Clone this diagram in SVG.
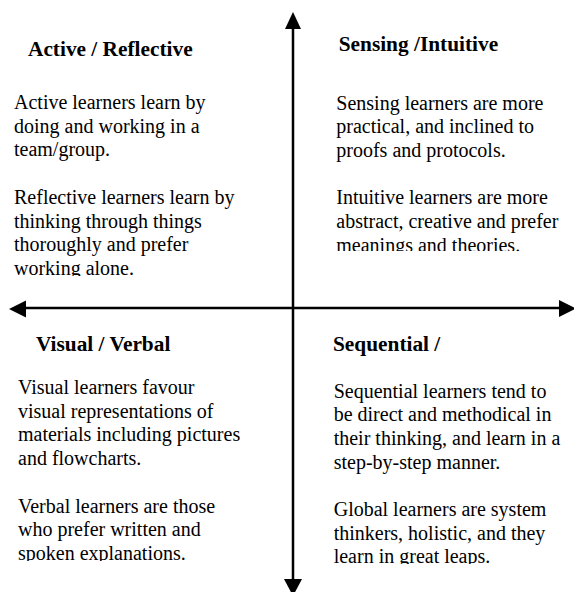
<svg xmlns="http://www.w3.org/2000/svg" width="574" height="592" viewBox="0 0 574 592">
  <style>
    .head { font-family: "Liberation Serif", "Times New Roman", serif; font-weight: bold; font-size: 21.33px; fill: #000; }
    .body { font-family: "Liberation Serif", "Times New Roman", serif; font-size: 20px; fill: #000; }
    .axis { stroke: #000; stroke-width: 2.5; fill: none; }
    .tip { fill: #000; }
  </style>
  <defs>
    <!-- text frames cut off their last line -->
    <clipPath id="clip-tl"><rect x="0" y="70" width="285" height="206"/></clipPath>
    <clipPath id="clip-tr"><rect x="300" y="70" width="274" height="181"/></clipPath>
    <clipPath id="clip-bl"><rect x="0" y="370" width="285" height="191"/></clipPath>
    <clipPath id="clip-br"><rect x="300" y="370" width="274" height="194"/></clipPath>
  </defs>

  <rect width="574" height="592" fill="#fff"/>

  <!-- axes -->
  <g id="axes">
    <line class="axis" x1="293" y1="26" x2="293" y2="582"/>
    <polygon class="tip" points="293,12 285,29 301,29"/>
    <polygon class="tip" points="293,596 284,579 302,579"/>
    <line class="axis" x1="24" y1="308" x2="561" y2="308"/>
    <polygon class="tip" points="9,309 26,300.5 26,317.5"/>
    <polygon class="tip" points="576,308.5 559,300 559,317"/>
  </g>

  <!-- top-left quadrant -->
  <g id="active-reflective">
    <text class="head" x="28" y="56">Active / Reflective</text>
    <g clip-path="url(#clip-tl)">
      <text class="body" x="14" y="109">Active learners learn by</text>
      <text class="body" x="14" y="132.7">doing and working in a</text>
      <text class="body" x="14" y="156.4">team/group.</text>
      <text class="body" x="14" y="203.8">Reflective learners learn by</text>
      <text class="body" x="14" y="227.5">thinking through things</text>
      <text class="body" x="14" y="251.2">thoroughly and prefer</text>
      <text class="body" x="14" y="274.9">working alone.</text>
    </g>
  </g>

  <!-- top-right quadrant -->
  <g id="sensing-intuitive">
    <text class="head" x="338.7" y="50.7">Sensing /Intuitive</text>
    <g clip-path="url(#clip-tr)">
      <text class="body" x="336.3" y="109.5">Sensing learners are more</text>
      <text class="body" x="336.3" y="133.2">practical, and inclined to</text>
      <text class="body" x="336.3" y="156.9">proofs and protocols.</text>
      <text class="body" x="336.3" y="204.3">Intuitive learners are more</text>
      <text class="body" x="336.3" y="228">abstract, creative and prefer</text>
      <text class="body" x="336.3" y="251.7">meanings and theories.</text>
    </g>
  </g>

  <!-- bottom-left quadrant -->
  <g id="visual-verbal">
    <text class="head" x="36" y="350.7">Visual / Verbal</text>
    <g clip-path="url(#clip-bl)">
      <text class="body" x="18" y="394">Visual learners favour</text>
      <text class="body" x="18" y="417.7">visual representations of</text>
      <text class="body" x="18" y="441.4">materials including pictures</text>
      <text class="body" x="18" y="465.1">and flowcharts.</text>
      <text class="body" x="18" y="512.5">Verbal learners are those</text>
      <text class="body" x="18" y="536.2">who prefer written and</text>
      <text class="body" x="18" y="559.9">spoken explanations.</text>
    </g>
  </g>

  <!-- bottom-right quadrant -->
  <g id="sequential-global">
    <text class="head" x="333" y="350.7">Sequential /</text>
    <g clip-path="url(#clip-br)">
      <text class="body" x="333.7" y="397.5">Sequential learners tend to</text>
      <text class="body" x="333.7" y="421.2">be direct and methodical in</text>
      <text class="body" x="333.7" y="444.9">their thinking, and learn in a</text>
      <text class="body" x="333.7" y="468.6">step-by-step manner.</text>
      <text class="body" x="333.7" y="516">Global learners are system</text>
      <text class="body" x="333.7" y="539.7">thinkers, holistic, and they</text>
      <text class="body" x="333.7" y="563.4">learn in great leaps.</text>
    </g>
  </g>
</svg>
